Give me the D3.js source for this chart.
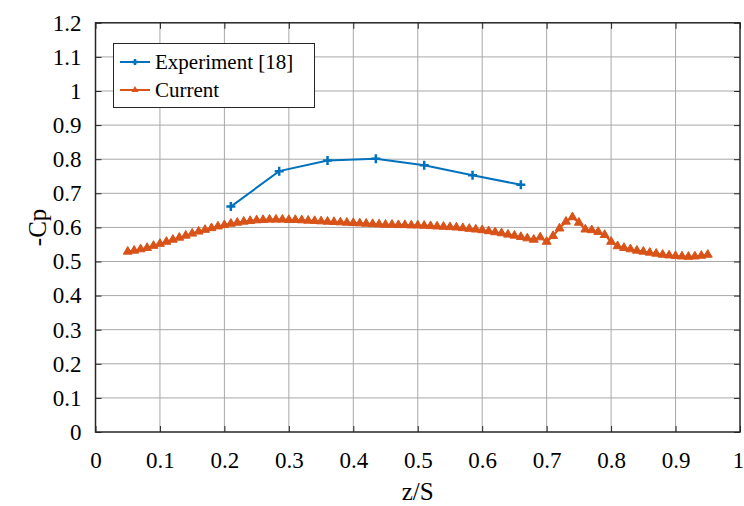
<!DOCTYPE html>
<html>
<head>
<meta charset="utf-8">
<script src="https://cdn.jsdelivr.net/npm/d3@7"></script>
<style>
  html, body { margin: 0; padding: 0; background: #fff; }
  svg { display: block; }
  svg text { font-family: "Times New Roman", Times, "Liberation Serif", Tinos, "DejaVu Serif", serif !important; }
</style>
</head>
<body>
<svg id="chart" width="744" height="506"></svg>
<script>
// Spanwise pressure coefficient: experiment vs current computation
const expZ  = [0.21, 0.285, 0.36, 0.435, 0.51, 0.585, 0.66];
const expCp = [0.661, 0.765, 0.796, 0.801, 0.782, 0.753, 0.725];

const curZ = [
  0.05, 0.06, 0.07, 0.08, 0.09, 0.10, 0.11, 0.12, 0.13, 0.14,
  0.15, 0.16, 0.17, 0.18, 0.19, 0.20, 0.21, 0.22, 0.23, 0.24,
  0.25, 0.26, 0.27, 0.28, 0.29, 0.30, 0.31, 0.32, 0.33, 0.34,
  0.35, 0.36, 0.37, 0.38, 0.39, 0.40, 0.41, 0.42, 0.43, 0.44,
  0.45, 0.46, 0.47, 0.48, 0.49, 0.50, 0.51, 0.52, 0.53, 0.54,
  0.55, 0.56, 0.57, 0.58, 0.59, 0.60, 0.61, 0.62, 0.63, 0.64,
  0.65, 0.66, 0.67, 0.68, 0.69, 0.70, 0.71, 0.72, 0.73, 0.74,
  0.75, 0.76, 0.77, 0.78, 0.79, 0.80, 0.81, 0.82, 0.83, 0.84,
  0.85, 0.86, 0.87, 0.88, 0.89, 0.90, 0.91, 0.92, 0.93, 0.94, 0.95
];
const curCp = [
  0.529, 0.532, 0.536, 0.540, 0.546, 0.552, 0.558, 0.564, 0.570, 0.576,
  0.582, 0.588, 0.593, 0.598, 0.603, 0.607, 0.611, 0.614, 0.617, 0.619,
  0.621, 0.622, 0.623, 0.623, 0.623, 0.622, 0.622, 0.621, 0.620, 0.619,
  0.618, 0.617, 0.616, 0.615, 0.614, 0.613, 0.612, 0.611, 0.610, 0.609,
  0.608, 0.608, 0.607, 0.607, 0.606, 0.606, 0.605, 0.604, 0.603, 0.602,
  0.601, 0.600, 0.598, 0.596, 0.594, 0.592, 0.589, 0.586, 0.583, 0.579,
  0.576, 0.572, 0.568, 0.564, 0.571, 0.558, 0.575, 0.597, 0.617, 0.630,
  0.614, 0.594, 0.592, 0.587, 0.578, 0.558, 0.545, 0.540, 0.536, 0.532,
  0.529, 0.526, 0.523, 0.520, 0.518, 0.516, 0.515, 0.514, 0.515, 0.517, 0.520
];

const xTicks = [0, 0.1, 0.2, 0.3, 0.4, 0.5, 0.6, 0.7, 0.8, 0.9, 1];
const yTicks = [0, 0.1, 0.2, 0.3, 0.4, 0.5, 0.6, 0.7, 0.8, 0.9, 1, 1.1, 1.2];
const seriesNames = ["Experiment [18]", "Current"];
const seriesColors = ["#0072BD", "#D95319"];

const svg = d3.select("#chart");
const plotL = 95.5, plotR = 740, plotT = 22.8, plotB = 432;

const x = d3.scaleLinear().domain([0, 1]).range([plotL, plotR]);
const y = d3.scaleLinear().domain([0, 1.2]).range([plotB, plotT]);

// grid
const grid = svg.append("g").attr("stroke", "#a8a8a8").attr("stroke-width", 1);
grid.selectAll(".vg").data(xTicks.slice(1, -1)).join("line")
  .attr("x1", d => x(d)).attr("x2", d => x(d))
  .attr("y1", plotT).attr("y2", plotB);
grid.selectAll(".hg").data(yTicks.slice(1, -1)).join("line")
  .attr("x1", plotL).attr("x2", plotR)
  .attr("y1", d => y(d)).attr("y2", d => y(d));

// axes with inward ticks
const fmt = d => (d === 0 || d === 1) ? String(d) : d3.format(".1f")(d);
const axisStyle = g => {
  g.attr("font-family", null).attr("font-size", 23);
  g.select(".domain").remove();
  g.selectAll(".tick line").attr("stroke", "#262626").attr("stroke-width", 1);
  g.selectAll(".tick text").style("font-size", "23px").attr("fill", "#000");
};
svg.append("g").attr("transform", `translate(0,${plotB})`)
  .call(d3.axisBottom(x).tickValues(xTicks).tickFormat(fmt).tickSizeInner(-6).tickSizeOuter(0).tickPadding(20))
  .call(axisStyle)
  .call(g => g.selectAll(".tick text").filter(d => d === 1).attr("dx", -2));
svg.append("g").attr("transform", `translate(0,${plotT})`)
  .call(d3.axisTop(x).tickValues(xTicks).tickFormat("").tickSizeInner(-6).tickSizeOuter(0))
  .call(axisStyle);
svg.append("g").attr("transform", `translate(${plotL},0)`)
  .call(d3.axisLeft(y).tickValues(yTicks).tickFormat(fmt).tickSizeInner(-6).tickSizeOuter(0).tickPadding(14))
  .call(axisStyle);
svg.append("g").attr("transform", `translate(${plotR},0)`)
  .call(d3.axisRight(y).tickValues(yTicks).tickFormat("").tickSizeInner(-6).tickSizeOuter(0))
  .call(axisStyle);

// frame
svg.append("rect").attr("x", plotL).attr("y", plotT)
  .attr("width", plotR - plotL).attr("height", plotB - plotT)
  .attr("fill", "none").attr("stroke", "#262626").attr("stroke-width", 1.5);

// axis titles
svg.append("text").attr("x", (plotL + plotR) / 2).attr("y", 500)
  .attr("text-anchor", "middle").style("font-size", "25px").text("z/S");
svg.append("text").attr("transform", `translate(46,${(plotT + plotB) / 2}) rotate(-90)`)
  .attr("text-anchor", "middle").style("font-size", "25px").text("-Cp");

const line = d3.line().x(d => x(d[0])).y(d => y(d[1]));
const curData = curZ.map((z, i) => [z, curCp[i]]);
const expData = expZ.map((z, i) => [z, expCp[i]]);

const tri = d3.symbol().type(d3.symbolTriangle).size(34);
const plus = "M-4.5,0H4.5M0,-4.5V4.5";

// current series
svg.append("path").datum(curData).attr("d", line)
  .attr("fill", "none").attr("stroke", seriesColors[1]).attr("stroke-width", 2);
svg.append("g").selectAll("path").data(curData).join("path")
  .attr("transform", d => `translate(${x(d[0])},${y(d[1])})`)
  .attr("d", tri).attr("fill", seriesColors[1]).attr("stroke", seriesColors[1]).attr("stroke-width", 1);

// experiment series
svg.append("path").datum(expData).attr("d", line)
  .attr("fill", "none").attr("stroke", seriesColors[0]).attr("stroke-width", 2);
svg.append("g").selectAll("path").data(expData).join("path")
  .attr("transform", d => `translate(${x(d[0])},${y(d[1])})`)
  .attr("d", plus).attr("fill", "none").attr("stroke", seriesColors[0]).attr("stroke-width", 2.5);

// legend
const lg = svg.append("g");
lg.append("rect").attr("x", 113.5).attr("y", 43.5).attr("width", 201).attr("height", 64)
  .attr("fill", "#fff").attr("stroke", "#262626").attr("stroke-width", 1);
const rows = [62, 90];
seriesNames.forEach((name, i) => {
  const g = lg.append("g").attr("transform", `translate(0,${rows[i]})`);
  g.append("line").attr("x1", 120).attr("x2", 150).attr("y1", 0).attr("y2", 0)
    .attr("stroke", seriesColors[i]).attr("stroke-width", 2);
  if (i === 0) {
    g.append("path").attr("transform", "translate(135,0)").attr("d", "M-3,0H3M0,-3V3")
      .attr("stroke", seriesColors[i]).attr("stroke-width", 2.5);
  } else {
    g.append("path").attr("transform", "translate(135,0)").attr("d", d3.symbol().type(d3.symbolTriangle).size(22))
      .attr("fill", seriesColors[i]);
  }
  g.append("text").attr("x", 155).attr("y", 7).style("font-size", "21px").text(name);
});
</script>
</body>
</html>
